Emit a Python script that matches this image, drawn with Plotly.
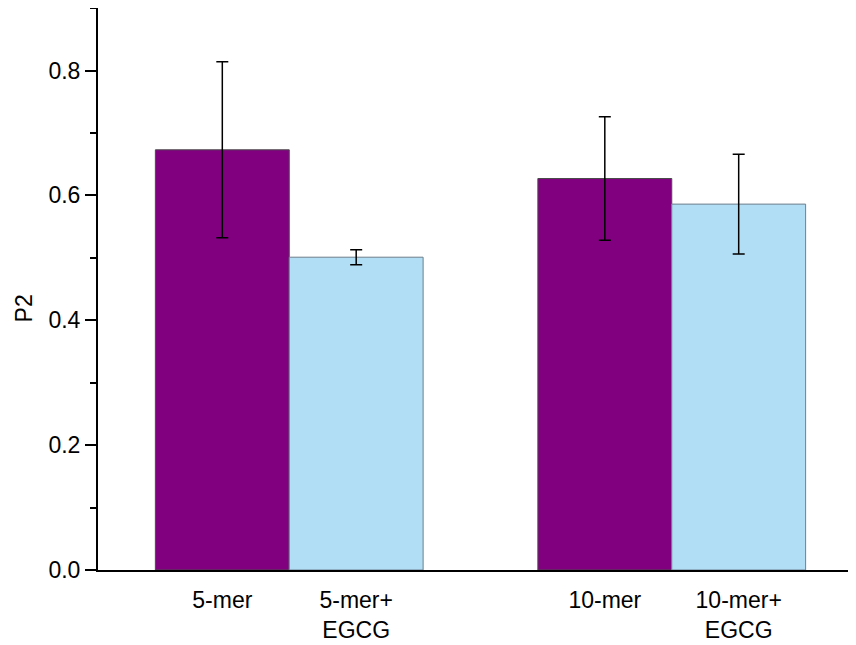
import plotly.graph_objects as go

groups = [1, 2]
labels_plain = ["5-mer", "10-mer"]
labels_egcg = ["5-mer+<br>EGCG", "10-mer+<br>EGCG"]
p2_plain = [0.673, 0.627]
err_plain = [0.141, 0.099]
p2_egcg = [0.501, 0.586]
err_egcg = [0.012, 0.080]
y_ticks = [0.0, 0.2, 0.4, 0.6, 0.8]

bar_width = 0.35
tick_pos = [g - bar_width / 2 for g in groups] + [g + bar_width / 2 for g in groups]
tick_txt = labels_plain + labels_egcg

font = "Liberation Sans, Arial, sans-serif"

fig = go.Figure()
fig.add_trace(go.Bar(
    x=groups, y=p2_plain, name="plain",
    marker=dict(color="#800080", line=dict(color="#4a4a4a", width=1)),
    error_y=dict(type="data", array=err_plain, color="#000000", thickness=1.5, width=6),
))
fig.add_trace(go.Bar(
    x=groups, y=p2_egcg, name="EGCG",
    marker=dict(color="#B2DEF5", line=dict(color="#6d7f8c", width=1)),
    error_y=dict(type="data", array=err_egcg, color="#000000", thickness=1.5, width=6),
))

fig.update_layout(
    width=848, height=637,
    margin=dict(l=90, r=0, t=0, b=75, pad=0),
    barmode="group", bargap=0.3, bargroupgap=0,
    showlegend=False,
    plot_bgcolor="white", paper_bgcolor="white",
    font=dict(family=font, size=23, color="#000000"),
    xaxis=dict(
        range=[0.5, 2.4817], showline=True, linecolor="#000000", linewidth=2,
        showgrid=False, zeroline=False, ticks="",
        tickmode="array", tickvals=tick_pos, ticktext=tick_txt,
        tickfont=dict(size=23, family=font), ticklabelstandoff=8,
    ),
    yaxis=dict(
        range=[0, 0.9001], showline=True, linecolor="#000000", linewidth=2,
        showgrid=False, zeroline=False,
        tickmode="array", tickvals=y_ticks, ticktext=[f"{v:.1f}" for v in y_ticks],
        ticks="outside", ticklen=11, tickwidth=2, tickcolor="#000000",
        minor=dict(tickmode="linear", tick0=0.1, dtick=0.2, ticks="outside", ticklen=6, tickwidth=2, tickcolor="#000000"),
        tickfont=dict(size=23, family=font),
    ),
    annotations=[dict(
        text="P2", textangle=-90, xref="paper", yref="paper",
        x=-0.098, xanchor="center", y=0.465, yanchor="middle",
        showarrow=False, font=dict(size=23, family=font),
    )],
)

fig.write_html("out.html")
